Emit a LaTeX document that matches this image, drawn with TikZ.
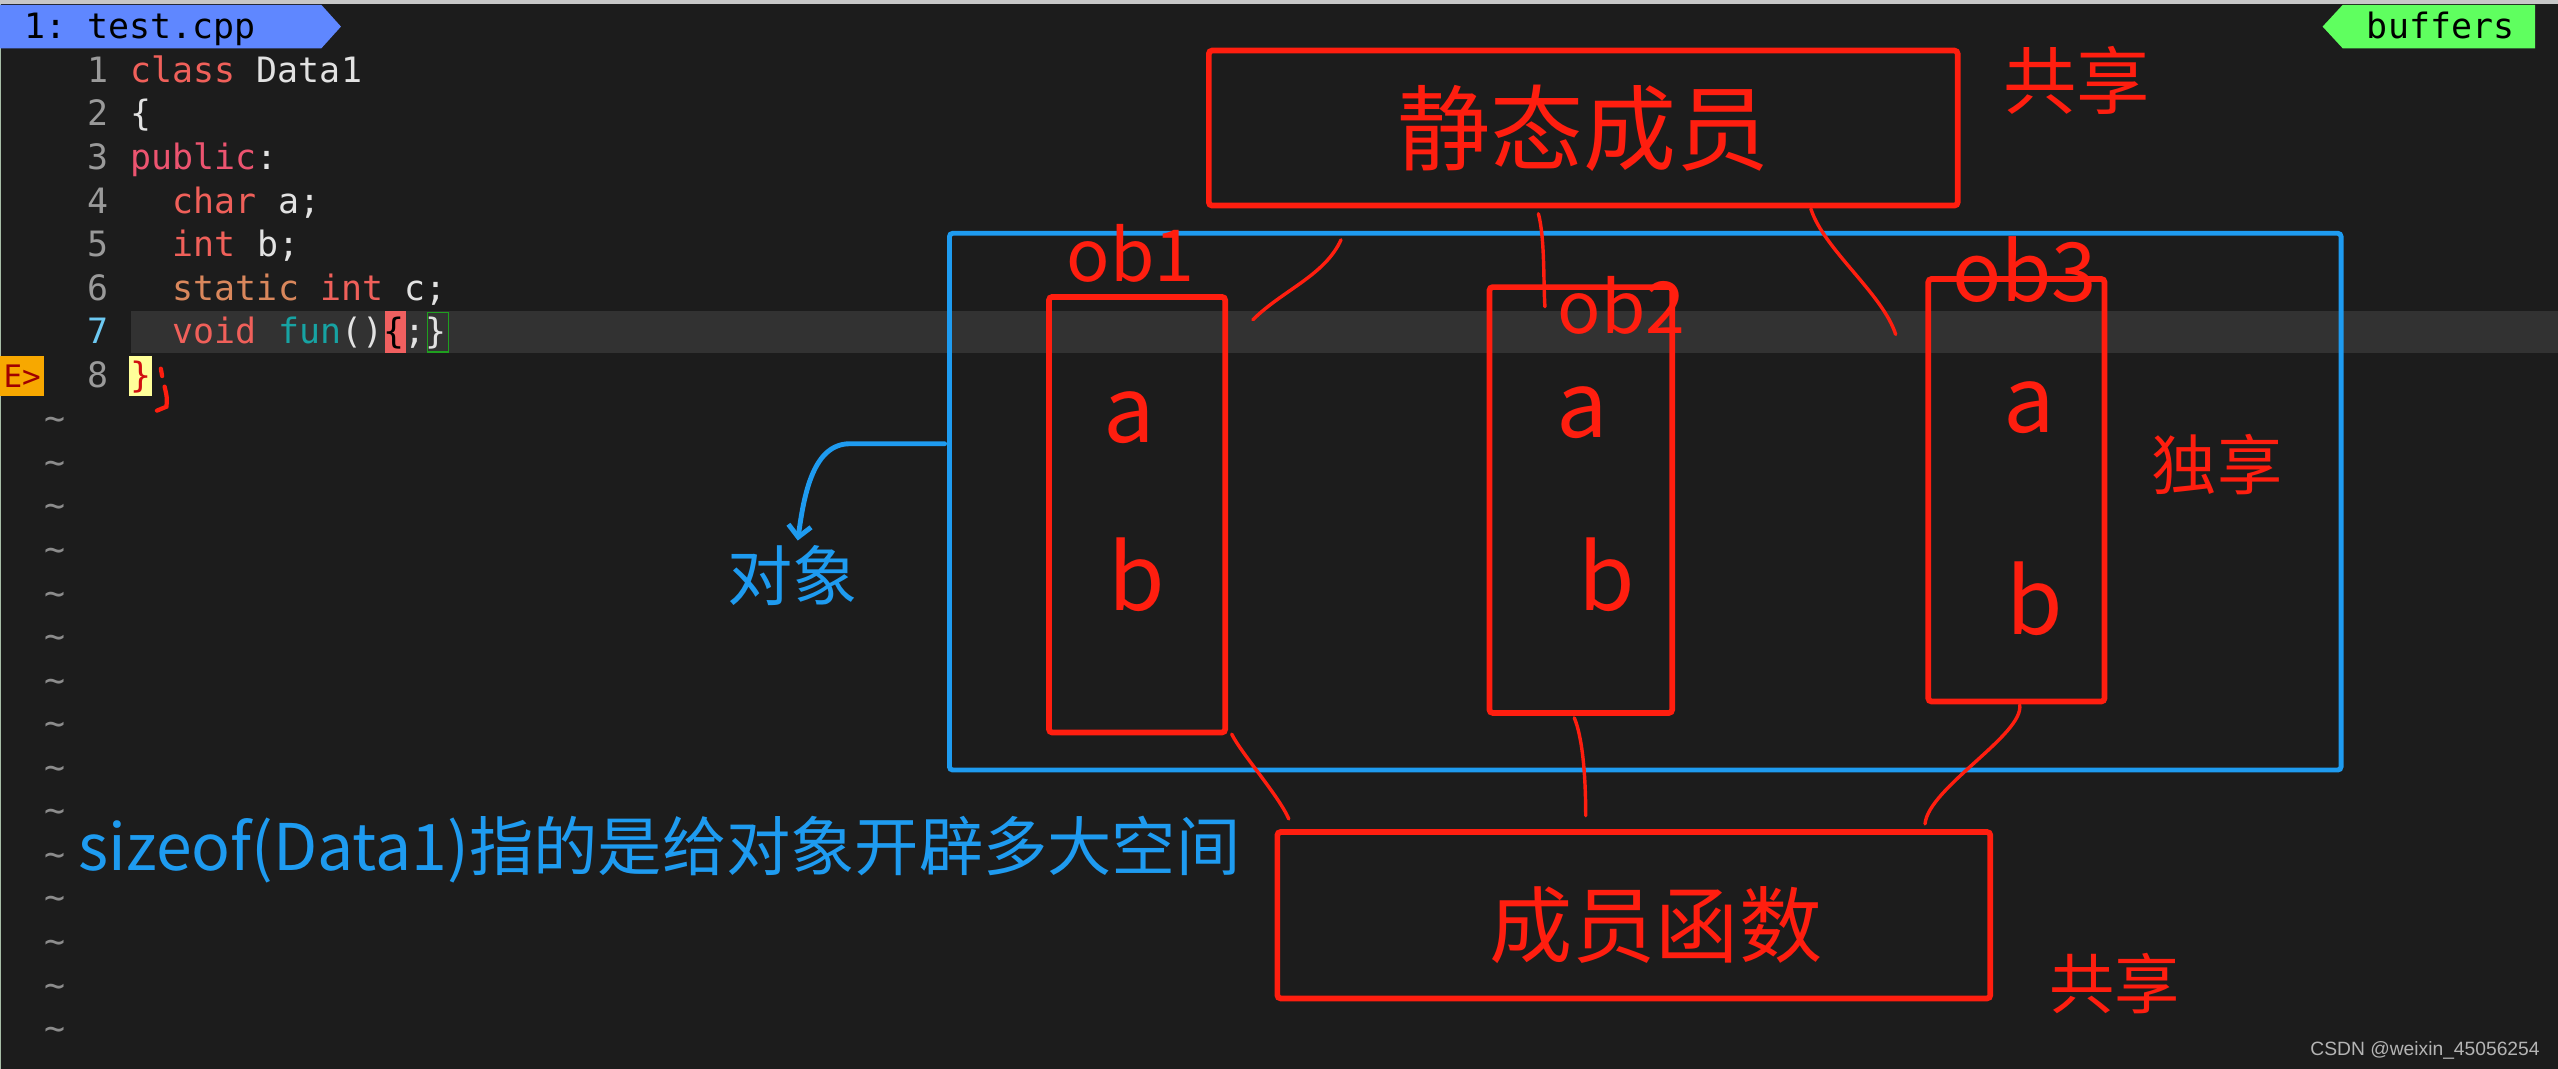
\documentclass[tikz,border=0pt]{standalone}
\usepackage{fontspec}
\setmonofont{DejaVu Sans Mono}
\newfontfamily\cjk{Noto Sans CJK SC}
\newfontfamily\wmfont{Liberation Sans}
\usetikzlibrary{arrows.meta,positioning}

\definecolor{editorbg}{HTML}{1C1C1C}
\definecolor{curline}{HTML}{323232}
\definecolor{penred}{HTML}{FF1E0F}
\definecolor{penblue}{HTML}{1E9BF0}
\definecolor{kwred}{HTML}{F0605A}
\definecolor{kwpink}{HTML}{EC5470}
\definecolor{kwtan}{HTML}{D9875C}
\definecolor{fnteal}{HTML}{17A3A3}
\definecolor{codefg}{HTML}{E2E2E2}
\definecolor{lnrgray}{HTML}{9A9A9A}
\definecolor{lnrblue}{HTML}{6DC9F2}
\definecolor{tildegray}{HTML}{8C8C8C}
\definecolor{tabblue}{HTML}{5F87FF}
\definecolor{tabgreen}{HTML}{5FFF5F}
\definecolor{signorange}{HTML}{F7A800}
\definecolor{signtext}{HTML}{A00000}
\definecolor{bracered}{HTML}{F06060}
\definecolor{matchgreen}{HTML}{1FA01F}
\definecolor{closeyellow}{HTML}{FFFF99}
\definecolor{closered}{HTML}{D01010}
\definecolor{wmgray}{HTML}{B4B4B4}

\begin{document}
\begin{tikzpicture}[x=1pt, y=-1pt,
  code/.style={anchor=base west, inner sep=0pt, font=\fontsize{21.4}{24}\ttfamily, text=codefg},
  lnr/.style={anchor=base east, inner sep=0pt, font=\fontsize{21.4}{24}\ttfamily, text=lnrgray},
  penbox/.style={draw=penred, line width=3.5pt, rounded corners=2pt, inner sep=0pt, outer sep=0pt},
  pen/.style={penred, line width=2.1pt, line cap=round},
  penlabel/.style={text=penred, inner sep=0pt, font=\cjk\fontsize{#1}{#1}\selectfont},
  bluelabel/.style={text=penblue, inner sep=0pt, font=\cjk\fontsize{#1}{#1}\selectfont}
]
  \useasboundingbox (0,0) rectangle (1568,655);
  \fill[editorbg] (0,0) rectangle (1568,655);
  \fill[black!22] (0,0) rectangle (1568,2.5);
  \fill[green!15!gray!60] (0,2.5) rectangle (0.6,655);

  % editor: tabs, current line, signs
  \fill[curline] (80,190.6) rectangle (1568,216.6);
  \fill[tabblue] (0,3) -- (197,3) -- (209,16.3) -- (197,29.6) -- (0,29.6) -- cycle;
  \node[code, text=black] (tabfile) at (15,23.6) {1: test.cpp};
  \fill[tabgreen] (1436,3) -- (1554,3) -- (1554,29.6) -- (1436,29.6) -- (1423.7,16.3) -- cycle;
  \node[code, text=black] (tabbuf) at (1450.7,23.6) {buffers};
  \fill[signorange] (0,218) rectangle (27,243);
  \node[code, text=signtext, font=\fontsize{19}{22}\ttfamily] (sign) at (2,237.4) {E>};
  \fill[bracered] (235.8,190.6) rectangle (248.7,216.6);
  \draw[matchgreen, line width=1pt] (262,191.5) rectangle (275,215.8);
  \fill[closeyellow] (79,218) rectangle (93,243);

  % line numbers and empty lines
  \foreach \n in {1,...,6,8}
    \node[lnr] (ln\n) at (67,{50.5+(\n-1)*26.7}) {\n};
  \node[lnr, text=lnrblue] (ln7) at (67,210.7) {7};
  \foreach \n in {9,...,23}
    \node[lnr, anchor=base, text=tildegray] (tl\n) at (33.5,{50.5+(\n-1)*26.7}) {\textasciitilde};

  % source of class Data1
  \node[code] (src1) at (80,50.5) {\color{kwred}class \color{codefg}Data1};
  \node[code] (src2) at (80,77.2) {\{};
  \node[code] (src3) at (80,103.9) {\color{kwpink}public\color{codefg}:};
  \node[code] (src4) at (105.8,130.6) {\color{kwred}char \color{codefg}a;};
  \node[code] (src5) at (105.8,157.3) {\color{kwred}int \color{codefg}b;};
  \node[code] (src6) at (105.8,184) {\color{kwtan}static \color{kwred}int \color{codefg}c;};
  \node[code] (src7) at (105.8,210.7) {\color{kwred}void \color{fnteal}fun\color{codefg}()\textcolor{black}{\{};\}};
  \node[code, text=closered] (src8) at (80,237.4) {\}};
  \draw[penred, line width=2.6pt, line cap=round] (98.6,226) -- (99.4,230.5);
  \draw[penred, line width=2.6pt, line cap=round] (100.9,237) .. controls (102.5,244) .. (102,249.3) -- (96.2,251.7);

  % shared and per-object parts
  \node[penbox, minimum width=459pt, minimum height=95pt, penlabel=57] (static) at (970.5,78.5) {静态成员};
  \node[penlabel=45] (share1) at (1273,49) {共享};
  \node[draw=penblue, line width=3pt, rounded corners=2pt, inner sep=0pt, outer sep=0pt,
        minimum width=853pt, minimum height=329pt] (objects) at (1008.5,307.5) {};

  \node[penbox, minimum width=108pt, minimum height=267pt] (ob1) at (697,315.5) {};
  \node[penbox, minimum width=112pt, minimum height=261pt] (ob2) at (969,306.5) {};
  \node[penbox, minimum width=108pt, minimum height=259pt] (ob3) at (1236,300.5) {};
  \node[penlabel=44] (lob1) at (693,155.5) {ob1};
  \node[penlabel=44] (lob2) at (994,187.5) {ob2};
  \node[penlabel=50] (lob3) at (1241,165) {ob3};
  \node[penlabel=56] (ob1a) at (692,256) {a};
  \node[penlabel=56] (ob1b) at (697,352) {b};
  \node[penlabel=56] (ob2a) at (970,253) {a};
  \node[penlabel=56] (ob2b) at (985,352) {b};
  \node[penlabel=56] (ob3a) at (1244,250) {a};
  \node[penlabel=56] (ob3b) at (1247,367) {b};
  \node[penlabel=40] (own) at (1359,285) {独享};

  \node[penbox, minimum width=437pt, minimum height=102pt] (func) at (1001.5,561) {};
  \node[penlabel=51] (funclabel) at ([xshift=13.5pt,yshift=-6pt]func.center) {成员函数};
  \node[penlabel=40] (share2) at (1296,603) {共享};

  % hand drawn links
  \draw[pen] ([xshift=81pt,yshift=-21pt]static.south west) .. controls +(-10,22) and +(18,-18) .. ([xshift=17pt,yshift=-14pt]ob1.north east);
  \draw[pen] ([xshift=202pt,yshift=-5pt]static.south west) .. controls +(4,15) and +(-1,-15) .. ([xshift=34pt,yshift=-12pt]ob2.north west);
  \draw[pen] ([xshift=369pt,yshift=-2pt]static.south west) .. controls +(8,25) and +(-8,-25) .. ([xshift=-20pt,yshift=-34pt]ob3.north west);
  \draw[pen] ([xshift=4pt,yshift=-1pt]ob1.south east) .. controls +(6,12) and +(-6,-14) .. ([xshift=7pt,yshift=8pt]func.north west);
  \draw[pen] ([xshift=-4pt,yshift=-3pt]ob2.south) .. controls +(5,12) and +(0,-25) .. ([xshift=189pt,yshift=10pt]func.north west);
  \draw[pen] ([xshift=2pt,yshift=-2pt]ob3.south) .. controls +(3,18) and +(2,-22) .. ([xshift=397pt,yshift=5pt]func.north west);

  % object arrow and note
  \node[bluelabel=40] (objlabel) at (486,353) {对象};
  \draw[penblue, line width=3pt, line cap=round, -{Straight Barb[length=7pt,width=14pt]}]
    ([xshift=-3pt,yshift=35.5pt]objects.west) -- ++(-58,0)
    .. controls +(-22,0) and +(4,-30) .. ([xshift=3pt,yshift=3pt]objlabel.north);
  \node[bluelabel=39.4, anchor=west] (note) at (48,521) {sizeof(Data1)指的是给对象开辟多大空间};

  \node[anchor=base west, inner sep=0pt, text=wmgray, font=\wmfont\fontsize{11.8}{12}\selectfont] (mark) at (1416,647) {CSDN @weixin\_45056254};
\end{tikzpicture}
\end{document}
